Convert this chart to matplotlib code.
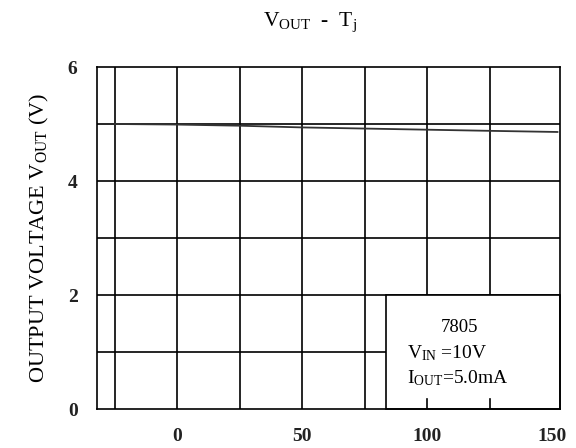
import matplotlib
matplotlib.use("Agg")
import matplotlib.pyplot as plt
from matplotlib.patches import Rectangle
import numpy as np

# junction temperature (C) vs output voltage (V)
temp = [-25, 0, 25, 50, 75, 100, 125, 152]
vout = [5.00, 4.99, 4.97, 4.94, 4.92, 4.90, 4.88, 4.86]

x_labels = [0, 50, 100, 150]
y_labels = [0, 2, 4, 6]
x_grid = [-25, 0, 25, 50, 75, 100, 125]
y_grid = [1, 2, 3, 4, 5]

plt.rcParams['font.family'] = 'Liberation Serif'
plt.rcParams['mathtext.fontset'] = 'custom'
plt.rcParams['mathtext.rm'] = 'Liberation Serif'
plt.rcParams['mathtext.it'] = 'Liberation Serif'

fig = plt.figure(figsize=(5.76, 4.48), dpi=100)
ax = fig.add_axes([97/576, 1 - 409/448, 463/576, 342/448])
ax.set_xlim(-32, 153)
ax.set_ylim(0, 6)

lw = 1.2
for x in x_grid:
    ax.axvline(x, color='black', lw=lw, zorder=1)
for y in y_grid:
    ax.axhline(y, color='black', lw=lw, zorder=1)

ax.plot(temp, vout, color='#333333', lw=1.3, zorder=2)

# condition box in the lower right corner
ax.add_patch(Rectangle((83.5, 0), 153 - 83.5, 2, facecolor='white',
                       edgecolor='black', lw=lw, zorder=3, clip_on=False))
for x in [100, 125]:
    ax.plot([x, x], [0, 0.18], color='black', lw=lw, zorder=4)

ax.text(113, 1.43, '7805', ha='center', va='center', fontsize=13.5, zorder=5)
ax.text(92, 0.98, r'$\mathrm{V_{IN}}$ =10V', ha='left', va='center',
        fontsize=14, zorder=5)
ax.text(92, 0.55, r'$\mathrm{I_{OUT}}$=5.0mA', ha='left', va='center',
        fontsize=14, zorder=5)

for s in ax.spines.values():
    s.set_linewidth(lw)
    s.set_zorder(6)

ax.set_xticks(x_labels)
ax.set_yticks(y_labels)
ax.tick_params(axis='x', length=0, labelsize=14, pad=14)
ax.tick_params(axis='y', length=0, labelsize=14, pad=14)
for t in ax.get_xticklabels() + ax.get_yticklabels():
    t.set_fontweight('bold')
    t.set_color('#222222')

ax.set_ylabel(r'OUTPUT VOLTAGE $\mathrm{V_{OUT}}$ (V)', fontsize=16,
              labelpad=12)

fig.text(310/576, 1 - 22/448, r'$\mathrm{V_{OUT}}$  -  $\mathrm{T_j}$',
         ha='center', va='center', fontsize=15.5)

fig.savefig('out.png', dpi=100)
